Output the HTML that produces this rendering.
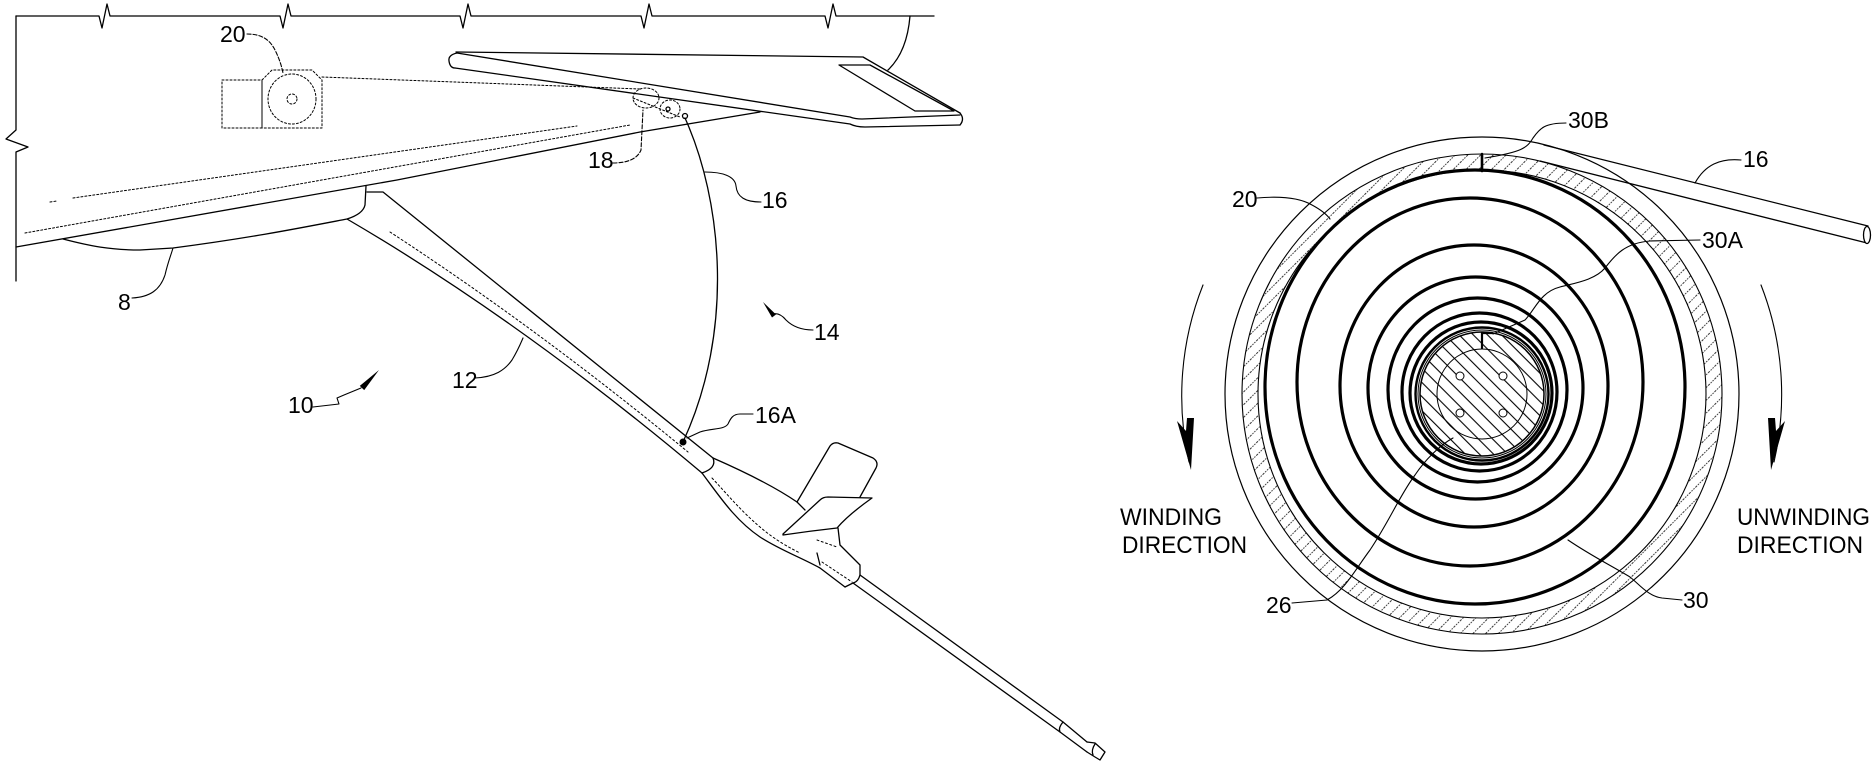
<!DOCTYPE html>
<html>
<head>
<meta charset="utf-8">
<style>
  html,body{margin:0;padding:0;background:#fff;}
  svg{display:block;}
  text{font-family:"Liberation Sans",Arial,sans-serif;fill:#000;}
</style>
</head>
<body>
<svg xmlns="http://www.w3.org/2000/svg" width="1875" height="765" viewBox="0 0 1875 765">
  <defs>
    <pattern id="ringHatch" patternUnits="userSpaceOnUse" width="9" height="9" patternTransform="rotate(-45)">
      <line x1="0" y1="4.5" x2="9" y2="4.5" stroke="#333" stroke-width="0.9" stroke-dasharray="1.5 1.2"/>
    </pattern>
    <pattern id="coreHatch" patternUnits="userSpaceOnUse" width="10" height="10" patternTransform="rotate(45)">
      <line x1="0" y1="5" x2="10" y2="5" stroke="#000" stroke-width="1.1"/>
    </pattern>
  </defs>

  <g fill="none" stroke="#000" stroke-width="1.3" stroke-linejoin="round" stroke-linecap="round">
    <!-- ===================== LEFT FIGURE ===================== -->
    <!-- top break line -->
    <path d="M16,16 L99,16 L102,28 L107,4 L110,16 L280,16 L283,28 L288,4 L291,16 L460,16 L463,28 L468,4 L471,16 L641,16 L644,28 L649,4 L652,16 L825,16 L828,28 L833,4 L836,16 L934,16"/>
    <!-- left break line -->
    <path d="M16,16 L16,130 L6,139 L28,147 L16,152 L16,281"/>
    <!-- hinge arc -->
    <path d="M910,16 Q907,52 888,70"/>

    <!-- flap -->
    <path d="M456,52 L863,57 L960,113"/>
    <path d="M457,53 L850,117 Q855,119 862,119 L960,115"/>
    <path d="M455,68 L850,124 Q856,127 865,127 L960,125"/>
    <path d="M960,113 Q965,119 960,125"/>
    <path d="M457,53 Q448,55 449,61 Q450,68 455,68"/>
    <path d="M839,65 L870,65 L954,111 L915,111 Z"/>

    <!-- wing lower line -->
    <path d="M16,247 L397,180 Q570,146 640,132 Q705,121 760,112"/>
    <!-- dotted wing lines -->
    <path d="M50,202 L57,201" stroke-width="1" stroke-dasharray="2 2"/>
    <path d="M73,198 L577,126" stroke-width="1" stroke-dasharray="2 2"/>
    <path d="M25,233 L630,125" stroke-width="1" stroke-dasharray="2 2"/>

    <!-- fairing (8) -->
    <path d="M63,239 C90,246 110,250 140,250 L173,248 C250,238 300,228 347,219 Q363,214 365,205 L366,186"/>

    <!-- strut (12) -->
    <path d="M367,192 L383,192 L713,458"/>
    <path d="M347,219 Q520,320 702,473"/>
    <path d="M390,232 Q540,330 688,452" stroke-width="1" stroke-dasharray="2 2.5"/>
    <path d="M713,458 Q717,468 702,473"/>

    <!-- body -->
    <path d="M713,458 C745,472 775,487 797,502 L805,510"/>
    <path d="M702,473 C720,497 735,520 760,537 C780,550 800,557 820,568 L845,587"/>
    <path d="M712,478 C728,495 740,510 760,527 C775,540 790,548 800,553" stroke-width="1" stroke-dasharray="2 2.5"/>
    <path d="M817,540 L837,547" stroke-width="1" stroke-dasharray="2 2.5"/>
    <path d="M822,562 L852,582" stroke-width="1" stroke-dasharray="2 2.5"/>
    <path d="M817,553 L820,565"/>

    <!-- upper fin -->
    <path d="M797,502 L830,446 Q833,442 838,443 L873,458 Q879,462 876,468 L860,497"/>
    <!-- lower fin -->
    <path d="M783,534 L820,500 Q823,497 828,497 L872,498 Q848,515 837,528 Q810,531 783,535 Z"/>
    <!-- under fin to rod -->
    <path d="M838,528 L840,545 L860,565 L860,575 Q858,582 853,583 L845,587"/>

    <!-- rod -->
    <path d="M860,575 L1063,722 L1087,742"/>
    <path d="M853,583 L1060,732 L1087,752"/>
    <path d="M1063,722 Q1058,728 1060,732"/>
    <path d="M1087,742 L1095,743 L1105,752 L1100,760 L1095,757 L1087,752"/>
    <path d="M1095,744 Q1091,750 1093,755"/>

    <!-- camera / reel (20) hidden -->
    <g stroke-width="1" stroke-dasharray="2 2">
      <rect x="222" y="80" width="40" height="48"/>
      <path d="M262,80 L272,70 L312,70 L322,80 L322,128 L262,128 Z"/>
      <ellipse cx="292" cy="99" rx="24" ry="25"/>
      <circle cx="292" cy="99" r="5"/>
      <path d="M322,77 L640,89"/>
      <ellipse cx="646" cy="98" rx="13" ry="10"/>
      <ellipse cx="670" cy="109" rx="10" ry="9"/>
      <path d="M633,98 L680,117"/>
    </g>
    <circle cx="668" cy="109" r="2"/>
    <circle cx="685" cy="116" r="2.5"/>

    <!-- cable 16 -->
    <path d="M685,118 C722,200 735,330 683,442"/>

    <!-- leaders left -->
    <path d="M247,34 C262,34 270,40 275,50 C280,60 282,68 283,73" stroke-width="1.1" stroke-dasharray="4 2"/>
    <path d="M613,163 C625,163 637,160 641,150 L643,110" stroke-width="1.1" stroke-dasharray="4 2"/>
    <path d="M761,202 C745,202 737,197 736,186 C735,176 722,172 705,172" stroke-width="1.1"/>
    <path d="M132,298 C150,297 160,290 165,275 C168,262 171,255 173,248" stroke-width="1.1"/>
    <path d="M475,378 C495,377 505,370 512,360 C518,350 520,345 523,338" stroke-width="1.1"/>
    <path d="M753,414 L740,414 C732,414 730,420 728,424 C724,430 712,428 700,432 L687,438" stroke-width="1.1"/>
    <path d="M813,330 C800,330 792,326 786,320 C781,314 777,313 773,314" stroke-width="1.1"/>
    <path d="M313,407 L339,404 L337,398 L344,395 L361,388" stroke-width="1.1"/>

    <!-- ===================== RIGHT FIGURE ===================== -->
    <!-- outer housing circle -->
    <circle cx="1482" cy="394" r="257" stroke-width="1.2"/>
    <!-- hatched ring -->
    <path fill="url(#ringHatch)" fill-rule="evenodd" stroke="none"
      d="M1242,394 a240,240 0 1,0 480,0 a240,240 0 1,0 -480,0 Z M1258,394 a224,224 0 1,0 448,0 a224,224 0 1,0 -448,0 Z"/>
    <circle cx="1482" cy="394" r="240" stroke-width="1.1"/>
    <circle cx="1482" cy="394" r="224" stroke-width="1.1"/>

    <!-- spiral spring rings -->
    <g stroke-width="3.2">
      <ellipse cx="1475" cy="387" rx="210" ry="217"/>
      <ellipse cx="1470" cy="382" rx="173" ry="184"/>
      <ellipse cx="1474" cy="386" rx="134" ry="141"/>
      <ellipse cx="1475.5" cy="388" rx="107.5" ry="111"/>
      <ellipse cx="1477.5" cy="390" rx="89.5" ry="92"/>
      <ellipse cx="1479.5" cy="392" rx="77.5" ry="79"/>
      <circle cx="1481" cy="393" r="71"/>
    </g>
    <circle cx="1482" cy="394" r="66.5" stroke-width="2.4"/>
    <circle cx="1482" cy="394" r="64" stroke-width="1"/>

    <!-- core -->
    <circle cx="1482" cy="394" r="62" fill="url(#coreHatch)" stroke-width="1.5"/>
    <circle cx="1482" cy="394" r="45" stroke-width="1"/>
    <g fill="#fff" stroke-width="1">
      <circle cx="1460" cy="376" r="4"/>
      <circle cx="1503" cy="376" r="4"/>
      <circle cx="1460" cy="413" r="4"/>
      <circle cx="1503" cy="413" r="4"/>
    </g>

    <!-- ticks 30B / 30A -->
    <path d="M1482,154 L1482,171" stroke-width="2.6"/>
    <path d="M1482,348 L1482,333 L1492,333" stroke-width="2.2"/>

    <!-- cable 16 (right) -->
    <path d="M1544,145 L1868,226"/>
    <path d="M1540,161 L1867,243"/>
    <ellipse cx="1867" cy="235" rx="3.5" ry="8.5" fill="#fff"/>

    <!-- rotation arcs -->
    <path d="M1203,285 A301,301 0 0 0 1189,462" stroke-width="1.1"/>
    <path d="M1761,285 A301,301 0 0 1 1774,462" stroke-width="1.1"/>

    <!-- leaders right -->
    <g stroke-width="1.1">
      <path d="M1257,198 C1280,196 1300,198 1312,205 Q1325,212 1330,219"/>
      <path d="M1566,123 C1545,123 1540,128 1533,138 C1527,148 1522,152 1485,158"/>
      <path d="M1741,160 C1720,158 1705,165 1695,183"/>
      <path d="M1700,240 L1650,241 C1625,243 1615,255 1605,268 C1595,280 1575,283 1560,287 C1540,292 1535,310 1525,320 L1493,334"/>
      <path d="M1292,603 L1327,600 C1345,590 1355,570 1370,550 C1390,520 1400,495 1415,475 C1425,460 1440,445 1453,438"/>
      <path d="M1682,600 L1662,598 C1648,596 1640,585 1630,577 C1610,565 1590,555 1568,540"/>
    </g>
  </g>

  <!-- filled items -->
  <g fill="#000" stroke="none">
    <circle cx="683" cy="442" r="3.5"/>
    <polygon points="379,370 364.2,390.1 359.8,385.9"/>
    <polygon points="763,302 776,314.5 772,317.5"/>
    <polygon points="1177,421 1186,431 1187,418 1194,418 1191,470"/>
    <polygon points="1785,421 1776,431 1775,418 1768,418 1771,470"/>
  </g>

  <!-- labels left -->
  <g font-size="23">
    <text x="220" y="42">20</text>
    <text x="588" y="168">18</text>
    <text x="762" y="208">16</text>
    <text x="118" y="310">8</text>
    <text x="814" y="340">14</text>
    <text x="288" y="413">10</text>
    <text x="452" y="388">12</text>
    <text x="755" y="423">16A</text>
  </g>
  <!-- labels right -->
  <g font-size="23">
    <text x="1568" y="128">30B</text>
    <text x="1743" y="167">16</text>
    <text x="1232" y="207">20</text>
    <text x="1702" y="248">30A</text>
    <text x="1266" y="613">26</text>
    <text x="1683" y="608">30</text>
  </g>
  <g font-size="24">
    <text x="1120" y="525" textLength="102" lengthAdjust="spacingAndGlyphs">WINDING</text>
    <text x="1122" y="553" textLength="125" lengthAdjust="spacingAndGlyphs">DIRECTION</text>
    <text x="1737" y="525" textLength="133" lengthAdjust="spacingAndGlyphs">UNWINDING</text>
    <text x="1737" y="553" textLength="126" lengthAdjust="spacingAndGlyphs">DIRECTION</text>
  </g>
</svg>
</body>
</html>
